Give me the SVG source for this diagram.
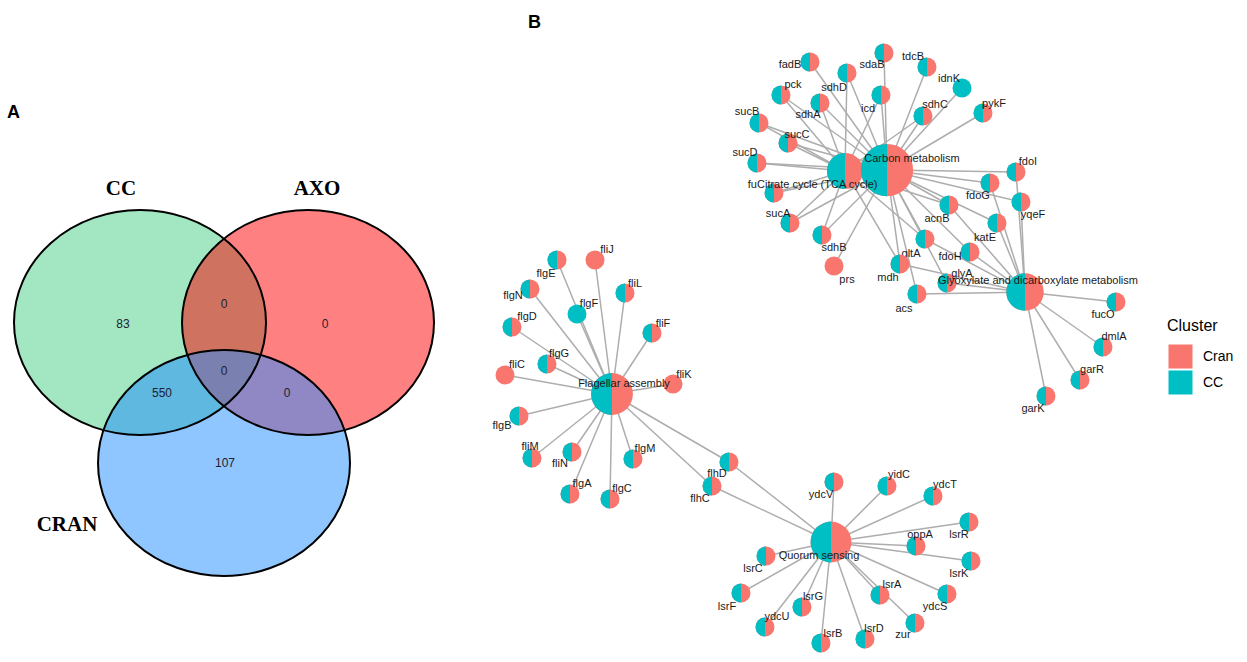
<svg xmlns="http://www.w3.org/2000/svg" xmlns:xlink="http://www.w3.org/1999/xlink" width="1247" height="662" viewBox="0 0 1247 662">
<style>
.panel{font-family:"Liberation Sans",Arial,sans-serif;font-weight:bold;font-size:18px;fill:#000}
.set{font-family:"Liberation Serif","Times New Roman",serif;font-weight:bold;font-size:21px;fill:#000;text-anchor:middle}
.num{font-family:"Liberation Sans",Arial,sans-serif;font-size:12px;fill:#1e2030;text-anchor:middle}
.lbl{font-family:"Liberation Sans",Arial,sans-serif;font-size:11px;fill:#1a1a1a;text-anchor:middle}
.big{font-family:"Liberation Sans",Arial,sans-serif;font-size:11px;fill:#1a1a1a;text-anchor:middle}
.edges line{stroke:#adadad;stroke-width:1.5}
.vo{fill:none;stroke:#000;stroke-width:2}
.leg{font-family:"Liberation Sans",Arial,sans-serif;fill:#000}
</style>
<defs>
<g id="pie"><circle r="9.5" fill="#F8766D"/><path d="M0,-9.5A9.5,9.5 0 0 0 0,9.5Z" fill="#00BFC4"/></g>
<circle id="pc" r="9.5" fill="#F8766D"/>
<circle id="pt" r="9.5" fill="#00BFC4"/>
<clipPath id="cCC"><ellipse cx="140" cy="322.5" rx="126" ry="112.5"/></clipPath>
<clipPath id="cAXO"><ellipse cx="308" cy="322.5" rx="126" ry="112.5"/></clipPath>
</defs>
<rect width="1247" height="662" fill="#fff"/>

<!-- Panel A: Venn -->
<g id="venn">
<text class="panel" x="7" y="118">A</text>
<ellipse cx="140" cy="322.5" rx="126" ry="112.5" fill="#A3E6C2"/>
<ellipse cx="308" cy="322.5" rx="126" ry="112.5" fill="#FF8080"/>
<ellipse cx="224" cy="463" rx="126" ry="113" fill="#90C6FF"/>
<ellipse cx="308" cy="322.5" rx="126" ry="112.5" fill="#CF7360" clip-path="url(#cCC)"/>
<ellipse cx="224" cy="463" rx="126" ry="113" fill="#5FB8E0" clip-path="url(#cCC)"/>
<ellipse cx="224" cy="463" rx="126" ry="113" fill="#9088C4" clip-path="url(#cAXO)"/>
<g clip-path="url(#cCC)"><ellipse cx="224" cy="463" rx="126" ry="113" fill="#7A80B0" clip-path="url(#cAXO)"/></g>
<ellipse class="vo" cx="140" cy="322.5" rx="126" ry="112.5"/>
<ellipse class="vo" cx="308" cy="322.5" rx="126" ry="112.5"/>
<ellipse class="vo" cx="224" cy="463" rx="126" ry="113"/>
<text class="set" x="121" y="195">CC</text>
<text class="set" x="317" y="195">AXO</text>
<text class="set" x="67" y="531">CRAN</text>
<text class="num" x="123" y="328">83</text>
<text class="num" x="224" y="308">0</text>
<text class="num" x="325" y="328">0</text>
<text class="num" x="224" y="375">0</text>
<text class="num" x="162" y="397">550</text>
<text class="num" x="287" y="397">0</text>
<text class="num" x="225" y="467">107</text>
</g>

<!-- Panel B -->
<text class="panel" x="528" y="28">B</text>

<g class="edges" id="connectors">
<!-- Citrate cycle -->
<line x1="845" y1="171" x2="790" y2="223"/><line x1="845" y1="171" x2="759" y2="123"/>
<line x1="845" y1="171" x2="788" y2="143"/><line x1="845" y1="171" x2="757" y2="163"/>
<line x1="845" y1="171" x2="820" y2="103"/><line x1="845" y1="171" x2="822" y2="235"/>
<line x1="845" y1="171" x2="923" y2="116"/><line x1="845" y1="171" x2="847" y2="73"/>
<line x1="845" y1="171" x2="881" y2="95"/><line x1="845" y1="171" x2="925" y2="239"/>
<line x1="845" y1="171" x2="949" y2="205"/><line x1="845" y1="171" x2="900" y2="264"/>
<line x1="845" y1="171" x2="774" y2="193"/><line x1="845" y1="171" x2="781" y2="95"/>
<!-- Carbon metabolism -->
<line x1="887" y1="170" x2="790" y2="223"/><line x1="887" y1="170" x2="759" y2="123"/>
<line x1="887" y1="170" x2="788" y2="143"/><line x1="887" y1="170" x2="757" y2="163"/>
<line x1="887" y1="170" x2="820" y2="103"/><line x1="887" y1="170" x2="822" y2="235"/>
<line x1="887" y1="170" x2="923" y2="116"/><line x1="887" y1="170" x2="847" y2="73"/>
<line x1="887" y1="170" x2="881" y2="95"/><line x1="887" y1="170" x2="925" y2="239"/>
<line x1="887" y1="170" x2="949" y2="205"/><line x1="887" y1="170" x2="900" y2="264"/>
<line x1="887" y1="170" x2="774" y2="193"/><line x1="887" y1="170" x2="781" y2="95"/>
<line x1="887" y1="170" x2="810" y2="62"/><line x1="887" y1="170" x2="884" y2="53"/>
<line x1="887" y1="170" x2="927" y2="67"/><line x1="887" y1="170" x2="962" y2="88"/>
<line x1="887" y1="170" x2="983" y2="113"/><line x1="887" y1="170" x2="834" y2="266"/>
<line x1="887" y1="170" x2="990" y2="183"/><line x1="887" y1="170" x2="970" y2="252"/>
<line x1="887" y1="170" x2="1016" y2="172"/><line x1="887" y1="170" x2="997" y2="223"/>
<line x1="887" y1="170" x2="1021" y2="202"/><line x1="887" y1="170" x2="947" y2="283"/>
<line x1="887" y1="170" x2="917" y2="294"/>
<!-- Glyoxylate -->
<line x1="1025" y1="292" x2="925" y2="239"/><line x1="1025" y1="292" x2="949" y2="205"/>
<line x1="1025" y1="292" x2="900" y2="264"/><line x1="1025" y1="292" x2="947" y2="283"/>
<line x1="1025" y1="292" x2="917" y2="294"/><line x1="1025" y1="292" x2="990" y2="183"/>
<line x1="1025" y1="292" x2="970" y2="252"/><line x1="1025" y1="292" x2="1016" y2="172"/>
<line x1="1025" y1="292" x2="997" y2="223"/><line x1="1025" y1="292" x2="1021" y2="202"/>
<line x1="1025" y1="292" x2="1116" y2="302"/><line x1="1025" y1="292" x2="1103" y2="347"/>
<line x1="1025" y1="292" x2="1080" y2="380"/><line x1="1025" y1="292" x2="1046" y2="396"/>
<!-- Flagellar assembly -->
<line x1="612" y1="394" x2="557" y2="260"/><line x1="612" y1="394" x2="595" y2="260"/>
<line x1="612" y1="394" x2="530" y2="289"/><line x1="612" y1="394" x2="625" y2="293"/>
<line x1="612" y1="394" x2="577" y2="314"/><line x1="612" y1="394" x2="512" y2="327"/>
<line x1="612" y1="394" x2="652" y2="333"/><line x1="612" y1="394" x2="547" y2="364"/>
<line x1="612" y1="394" x2="505" y2="375"/><line x1="612" y1="394" x2="673" y2="384"/>
<line x1="612" y1="394" x2="519" y2="416"/><line x1="612" y1="394" x2="532" y2="458"/>
<line x1="612" y1="394" x2="572" y2="452"/><line x1="612" y1="394" x2="633" y2="459"/>
<line x1="612" y1="394" x2="570" y2="494"/><line x1="612" y1="394" x2="610" y2="499"/>
<line x1="612" y1="394" x2="729" y2="462"/><line x1="612" y1="394" x2="712" y2="486"/>
<!-- Quorum sensing -->
<line x1="831" y1="542" x2="834" y2="482"/><line x1="831" y1="542" x2="887" y2="486"/>
<line x1="831" y1="542" x2="933" y2="496"/><line x1="831" y1="542" x2="969" y2="522"/>
<line x1="831" y1="542" x2="916" y2="546"/><line x1="831" y1="542" x2="766" y2="556"/>
<line x1="831" y1="542" x2="971" y2="561"/><line x1="831" y1="542" x2="741" y2="593"/>
<line x1="831" y1="542" x2="880" y2="595"/><line x1="831" y1="542" x2="947" y2="594"/>
<line x1="831" y1="542" x2="802" y2="607"/><line x1="831" y1="542" x2="765" y2="627"/>
<line x1="831" y1="542" x2="915" y2="623"/><line x1="831" y1="542" x2="821" y2="643"/>
<line x1="831" y1="542" x2="865" y2="639"/><line x1="831" y1="542" x2="729" y2="462"/>
<line x1="831" y1="542" x2="712" y2="486"/>
</g>

<!-- gene nodes -->
<g id="node-fadB"><use href="#pie" x="810" y="62"/><text class="lbl" x="790" y="68">fadB</text></g>
<g id="node-sdaB"><use href="#pie" x="884" y="53"/><text class="lbl" x="872" y="68">sdaB</text></g>
<g id="node-tdcB"><use href="#pie" x="927" y="67"/><text class="lbl" x="913" y="60">tdcB</text></g>
<g id="node-idnK"><use href="#pt" x="962" y="88"/><text class="lbl" x="949" y="82">idnK</text></g>
<g id="node-sdhD"><use href="#pie" x="847" y="73"/><text class="lbl" x="834" y="91">sdhD</text></g>
<g id="node-pck"><use href="#pie" x="781" y="95"/><text class="lbl" x="793" y="88">pck</text></g>
<g id="node-icd"><use href="#pie" x="881" y="95"/><text class="lbl" x="868" y="112">icd</text></g>
<g id="node-sdhA"><use href="#pie" x="820" y="103"/><text class="lbl" x="808" y="118">sdhA</text></g>
<g id="node-sdhC"><use href="#pie" x="923" y="116"/><text class="lbl" x="935" y="108">sdhC</text></g>
<g id="node-pykF"><use href="#pie" x="983" y="113"/><text class="lbl" x="994" y="107">pykF</text></g>
<g id="node-sucB"><use href="#pie" x="759" y="123"/><text class="lbl" x="747" y="115">sucB</text></g>
<g id="node-sucC"><use href="#pie" x="788" y="143"/><text class="lbl" x="797" y="138">sucC</text></g>
<g id="node-sucD"><use href="#pie" x="757" y="163"/><text class="lbl" x="745" y="156">sucD</text></g>
<g id="node-fu"><use href="#pie" x="774" y="193"/></g>
<g id="node-sucA"><use href="#pie" x="790" y="223"/><text class="lbl" x="778" y="217">sucA</text></g>
<g id="node-sdhB"><use href="#pie" x="822" y="235"/><text class="lbl" x="834" y="251">sdhB</text></g>
<g id="node-prs"><use href="#pc" x="834" y="266"/><text class="lbl" x="847" y="283">prs</text></g>
<g id="node-fdoI"><use href="#pie" x="1016" y="172"/><text class="lbl" x="1028" y="165">fdoI</text></g>
<g id="node-fdoG"><use href="#pie" x="990" y="183"/><text class="lbl" x="978" y="199">fdoG</text></g>
<g id="node-yqeF"><use href="#pie" x="1021" y="202"/><text class="lbl" x="1033" y="218">yqeF</text></g>
<g id="node-acnB"><use href="#pie" x="949" y="205"/><text class="lbl" x="937" y="222">acnB</text></g>
<g id="node-katE"><use href="#pie" x="997" y="223"/><text class="lbl" x="985" y="241">katE</text></g>
<g id="node-gltA"><use href="#pie" x="925" y="239"/><text class="lbl" x="911" y="257">gltA</text></g>
<g id="node-fdoH"><use href="#pie" x="970" y="252"/><text class="lbl" x="950" y="260">fdoH</text></g>
<g id="node-mdh"><use href="#pie" x="900" y="264"/><text class="lbl" x="888" y="281">mdh</text></g>
<g id="node-glyA"><use href="#pie" x="947" y="283"/><text class="lbl" x="962" y="277">glyA</text></g>
<g id="node-acs"><use href="#pie" x="917" y="294"/><text class="lbl" x="904" y="312">acs</text></g>
<g id="node-fucO"><use href="#pie" x="1116" y="302"/><text class="lbl" x="1103" y="318">fucO</text></g>
<g id="node-dmlA"><use href="#pie" x="1103" y="347"/><text class="lbl" x="1114" y="340">dmlA</text></g>
<g id="node-garR"><use href="#pie" x="1080" y="380"/><text class="lbl" x="1092" y="373">garR</text></g>
<g id="node-garK"><use href="#pie" x="1046" y="396"/><text class="lbl" x="1033" y="412">garK</text></g>

<g id="node-flgE"><use href="#pie" x="557" y="260"/><text class="lbl" x="546" y="277">flgE</text></g>
<g id="node-fliJ"><use href="#pc" x="595" y="260"/><text class="lbl" x="607" y="253">fliJ</text></g>
<g id="node-flgN"><use href="#pie" x="530" y="289"/><text class="lbl" x="513" y="299">flgN</text></g>
<g id="node-fliL"><use href="#pie" x="625" y="293"/><text class="lbl" x="635" y="287">fliL</text></g>
<g id="node-flgF"><use href="#pt" x="577" y="314"/><text class="lbl" x="589" y="307">flgF</text></g>
<g id="node-flgD"><use href="#pie" x="512" y="327"/><text class="lbl" x="527" y="320">flgD</text></g>
<g id="node-fliF"><use href="#pie" x="652" y="333"/><text class="lbl" x="663" y="327">fliF</text></g>
<g id="node-flgG"><use href="#pie" x="547" y="364"/><text class="lbl" x="559" y="357">flgG</text></g>
<g id="node-fliC"><use href="#pc" x="505" y="375"/><text class="lbl" x="517" y="368">fliC</text></g>
<g id="node-fliK"><use href="#pc" x="673" y="384"/><text class="lbl" x="684" y="378">fliK</text></g>
<g id="node-flgB"><use href="#pie" x="519" y="416"/><text class="lbl" x="502" y="429">flgB</text></g>
<g id="node-fliM"><use href="#pie" x="532" y="458"/><text class="lbl" x="530" y="450">fliM</text></g>
<g id="node-fliN"><use href="#pie" x="572" y="452"/><text class="lbl" x="560" y="467">fliN</text></g>
<g id="node-flgM"><use href="#pie" x="633" y="459"/><text class="lbl" x="645" y="452">flgM</text></g>
<g id="node-flgA"><use href="#pie" x="570" y="494"/><text class="lbl" x="582" y="487">flgA</text></g>
<g id="node-flgC"><use href="#pie" x="610" y="499"/><text class="lbl" x="622" y="492">flgC</text></g>
<g id="node-flhD"><use href="#pie" x="729" y="462"/><text class="lbl" x="717" y="477">flhD</text></g>
<g id="node-flhC"><use href="#pie" x="712" y="486"/><text class="lbl" x="700" y="502">flhC</text></g>

<g id="node-ydcV"><use href="#pie" x="834" y="482"/><text class="lbl" x="821" y="498">ydcV</text></g>
<g id="node-yidC"><use href="#pie" x="887" y="486"/><text class="lbl" x="899" y="478">yidC</text></g>
<g id="node-ydcT"><use href="#pie" x="933" y="496"/><text class="lbl" x="945" y="488">ydcT</text></g>
<g id="node-lsrR"><use href="#pie" x="969" y="522"/><text class="lbl" x="959" y="538">lsrR</text></g>
<g id="node-oppA"><use href="#pie" x="916" y="546"/><text class="lbl" x="920" y="538">oppA</text></g>
<g id="node-lsrC"><use href="#pie" x="766" y="556"/><text class="lbl" x="753" y="572">lsrC</text></g>
<g id="node-lsrK"><use href="#pie" x="971" y="561"/><text class="lbl" x="959" y="577">lsrK</text></g>
<g id="node-lsrF"><use href="#pie" x="741" y="593"/><text class="lbl" x="727" y="610">lsrF</text></g>
<g id="node-lsrA"><use href="#pie" x="880" y="595"/><text class="lbl" x="892" y="588">lsrA</text></g>
<g id="node-ydcS"><use href="#pie" x="947" y="594"/><text class="lbl" x="935" y="610">ydcS</text></g>
<g id="node-lsrG"><use href="#pie" x="802" y="607"/><text class="lbl" x="813" y="600">lsrG</text></g>
<g id="node-ydcU"><use href="#pie" x="765" y="627"/><text class="lbl" x="777" y="620">ydcU</text></g>
<g id="node-zur"><use href="#pie" x="915" y="623"/><text class="lbl" x="903" y="638">zur</text></g>
<g id="node-lsrB"><use href="#pie" x="821" y="643"/><text class="lbl" x="833" y="637">lsrB</text></g>
<g id="node-lsrD"><use href="#pie" x="865" y="639"/><text class="lbl" x="874" y="632">lsrD</text></g>

<!-- pathway nodes -->
<g id="node-citrate"><use href="#pie" transform="translate(845,171) scale(1.9)"/></g>
<g id="node-carbon"><use href="#pie" transform="translate(887,170) scale(2.75)"/><text class="big" x="912" y="162">Carbon metabolism</text></g>
<g id="label-citrate"><text class="lbl" x="757" y="188" text-anchor="end" style="text-anchor:end">fu</text><text class="big" x="757" y="188" style="text-anchor:start">Citrate cycle (TCA cycle)</text></g>
<g id="node-glyoxylate"><use href="#pie" transform="translate(1025,292) scale(1.97)"/><text class="big" x="1038" y="284">Glyoxylate and dicarboxylate metabolism</text></g>
<g id="node-flagellar"><use href="#pie" transform="translate(612,394) scale(2.2)"/><text class="big" x="624" y="387">Flagellar assembly</text></g>
<g id="node-quorum"><use href="#pie" transform="translate(831,542) scale(2.15)"/><text class="big" x="819" y="559">Quorum sensing</text></g>

<!-- legend -->
<g id="legend">
<text class="leg" x="1167" y="331" font-size="16">Cluster</text>
<rect x="1168" y="344" width="25" height="25" fill="#F8766D" stroke="#fff" stroke-width="1"/>
<rect x="1168" y="370" width="25" height="25" fill="#00BFC4" stroke="#fff" stroke-width="1"/>
<text class="leg" x="1203" y="361" font-size="14">Cran</text>
<text class="leg" x="1203" y="387" font-size="14">CC</text>
</g>
</svg>
